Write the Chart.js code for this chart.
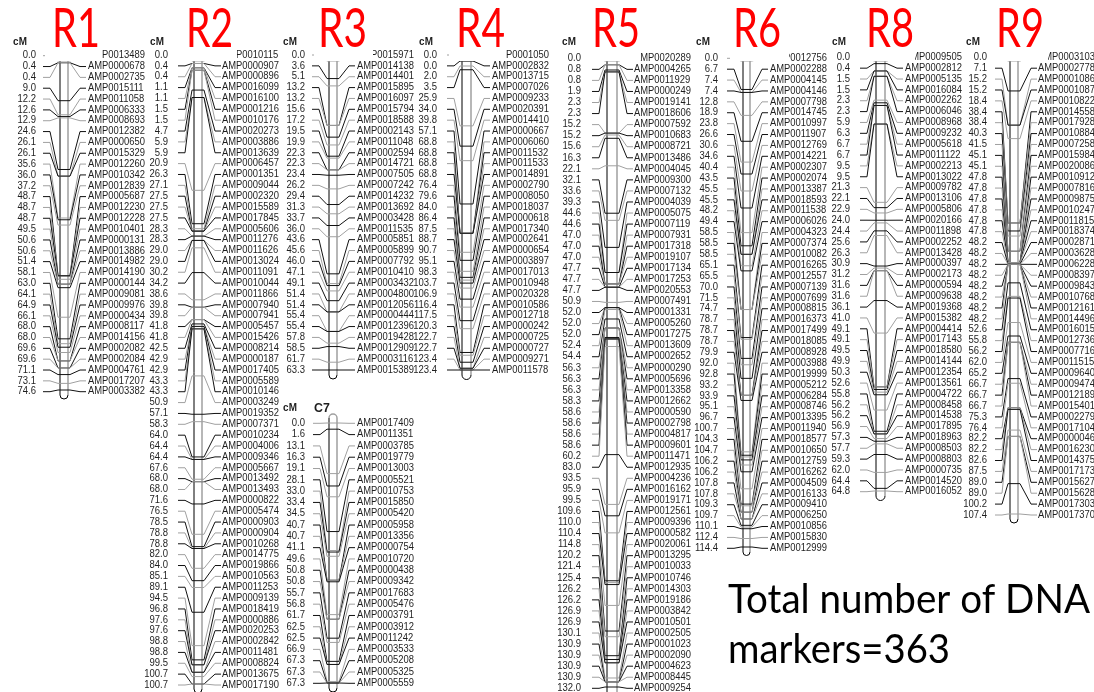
<!DOCTYPE html>
<html>
<head>
<meta charset="utf-8">
<script src="https://cdn.jsdelivr.net/npm/chart.js@4.4.1/dist/chart.umd.min.js"></script>
<style>
  html, body { margin: 0; padding: 0; background: #fff; }
  #wrap { position: relative; width: 1094px; height: 692px; }
</style>
</head>
<body>
<div id="wrap"><canvas id="map"></canvas></div>
<script>
// Linkage groups: marker names and map positions (cM), top to bottom
const r1Markers = ['AMP0013489','AMP0000678','AMP0002735','AMP0015111','AMP0011058','AMP0006333','AMP0008693','AMP0012382','AMP0000650','AMP0015329','AMP0012260','AMP0010342','AMP0012839','AMP0005687','AMP0012230','AMP0012228','AMP0010401','AMP0000131','AMP0013886','AMP0014982','AMP0014190','AMP0000144','AMP0009081','AMP0009976','AMP0000434','AMP0008117','AMP0014156','AMP0002082','AMP0002084','AMP0004761','AMP0017207','AMP0003382'];
const r1Cm = [0.0,0.4,0.4,9.0,12.2,12.6,12.9,24.6,26.1,26.1,35.6,36.0,37.2,48.7,48.7,48.7,49.5,50.6,50.6,51.4,58.1,63.0,64.1,64.9,66.1,68.0,68.0,69.6,69.6,71.1,73.1,74.6];

const r2Markers = ['AMP0010115','AMP0000907','AMP0000896','AMP0016099','AMP0016100','AMP0001216','AMP0010176','AMP0020273','AMP0003886','AMP0013639','AMP0006457','AMP0001351','AMP0009044','AMP0002320','AMP0015589','AMP0017845','AMP0005606','AMP0011276','AMP0011626','AMP0013024','AMP0011091','AMP0010044','AMP0011866','AMP0007940','AMP0007941','AMP0005457','AMP0015426','AMP0008214','AMP0000187','AMP0017405','AMP0005589','AMP0010146','AMP0003249','AMP0019352','AMP0007371','AMP0010234','AMP0004006','AMP0009346','AMP0005667','AMP0013492','AMP0013493','AMP0000822','AMP0005474','AMP0000903','AMP0000904','AMP0010268','AMP0014775','AMP0019866','AMP0010563','AMP0011253','AMP0009139','AMP0018419','AMP0000886','AMP0020253','AMP0002842','AMP0011481','AMP0008824','AMP0013675','AMP0017190'];
const r2Cm = [0.0,0.4,0.4,1.1,1.1,1.5,1.5,4.7,5.9,5.9,20.9,26.3,27.1,27.5,27.5,27.5,28.3,28.3,29.0,29.0,30.2,34.2,38.6,39.8,39.8,41.8,41.8,42.5,42.9,42.9,43.3,43.3,50.9,57.1,58.3,64.0,64.4,64.4,67.6,68.0,68.0,71.6,76.5,78.5,78.8,78.8,82.0,84.0,85.1,89.1,94.5,96.8,97.6,97.6,98.8,98.8,99.5,100.7,100.7];

const r3Markers = ['AMP0015971','AMP0014138','AMP0014401','AMP0015895','AMP0016097','AMP0015794','AMP0018588','AMP0002143','AMP0011048','AMP0002594','AMP0014721','AMP0007505','AMP0007242','AMP0014232','AMP0013692','AMP0003428','AMP0011535','AMP0005851','AMP0005899','AMP0007792','AMP0010410','AMP0003432','AMP0004800','AMP0012056','AMP0000444','AMP0012396','AMP0019428','AMP0012909','AMP0003116','AMP0015389'];
const r3Cm = [0.0,3.6,5.1,13.2,13.2,15.6,17.2,19.5,19.9,22.3,22.3,23.4,26.2,29.4,31.3,33.7,36.0,43.6,45.6,46.0,47.1,49.1,51.4,51.4,55.4,55.4,57.8,58.5,61.7,63.3];

const r4Markers = ['AMP0001050','AMP0002832','AMP0013715','AMP0007026','AMP0009233','AMP0020391','AMP0014410','AMP0000667','AMP0006060','AMP0011532','AMP0011533','AMP0014891','AMP0002790','AMP0008050','AMP0018037','AMP0000618','AMP0017340','AMP0002641','AMP0000654','AMP0003897','AMP0017013','AMP0010948','AMP0020328','AMP0010586','AMP0012718','AMP0000242','AMP0000725','AMP0000727','AMP0009271','AMP0011578'];
const r4Cm = [0.0,0.0,2.0,3.5,25.9,34.0,39.8,57.1,68.8,68.8,68.8,68.8,76.4,79.6,84.0,86.4,87.5,88.7,90.7,95.1,98.3,103.7,106.9,116.4,117.5,120.3,122.7,122.7,123.4,123.4];

const c7Markers = ['AMP0017409','AMP0011351','AMP0003785','AMP0019779','AMP0013003','AMP0005521','AMP0010753','AMP0015850','AMP0005420','AMP0005958','AMP0013356','AMP0000754','AMP0010720','AMP0000438','AMP0009342','AMP0017683','AMP0005476','AMP0003791','AMP0003912','AMP0011242','AMP0003533','AMP0005208','AMP0005325','AMP0005559'];
const c7Cm = [0.0,1.6,13.1,16.3,19.1,28.1,33.0,33.4,34.5,40.7,40.7,41.1,49.6,50.8,50.8,55.7,56.8,61.7,62.5,62.5,66.9,67.3,67.3,67.3];

const r5Markers = ['AMP0020289','AMP0004265','AMP0011929','AMP0000249','AMP0019141','AMP0018606','AMP0007592','AMP0010683','AMP0008721','AMP0013486','AMP0004045','AMP0009300','AMP0007132','AMP0004039','AMP0005075','AMP0007119','AMP0007931','AMP0017318','AMP0019107','AMP0017134','AMP0017253','AMP0020553','AMP0007491','AMP0001331','AMP0005260','AMP0017275','AMP0013609','AMP0002652','AMP0000290','AMP0005696','AMP0013358','AMP0012662','AMP0000590','AMP0002798','AMP0004817','AMP0009601','AMP0011471','AMP0012935','AMP0004236','AMP0016162','AMP0019171','AMP0012561','AMP0009396','AMP0000582','AMP0020061','AMP0013295','AMP0010033','AMP0010746','AMP0014303','AMP0019186','AMP0003842','AMP0010501','AMP0002505','AMP0001023','AMP0002090','AMP0004623','AMP0008445','AMP0009254'];
const r5Cm = [0.0,0.8,0.8,1.9,2.3,2.3,15.2,15.2,15.6,16.3,22.1,32.1,33.6,39.3,44.6,44.6,47.0,47.0,47.0,47.7,47.7,47.7,50.9,52.0,52.0,52.0,52.4,54.4,56.3,56.3,56.3,58.3,58.6,58.6,58.6,58.6,60.2,83.0,93.5,95.9,99.5,109.6,110.0,110.4,114.8,120.2,121.4,125.4,126.2,126.2,126.9,126.9,130.1,130.9,130.9,130.9,130.9,132.0];

const r6Markers = ['AMP0012756','AMP0002288','AMP0004145','AMP0004146','AMP0007798','AMP0014745','AMP0010997','AMP0011907','AMP0012769','AMP0014221','AMP0002307','AMP0002074','AMP0013387','AMP0018593','AMP0011538','AMP0006026','AMP0004323','AMP0007374','AMP0010082','AMP0016265','AMP0012557','AMP0007139','AMP0007699','AMP0008815','AMP0016373','AMP0017499','AMP0018085','AMP0008928','AMP0003988','AMP0019999','AMP0005212','AMP0006284','AMP0008746','AMP0013395','AMP0011940','AMP0018577','AMP0010650','AMP0012759','AMP0016262','AMP0004509','AMP0016133','AMP0009410','AMP0006250','AMP0010856','AMP0015830','AMP0012999'];
const r6Cm = [0.0,6.7,7.4,7.4,12.8,18.9,23.8,26.6,30.6,34.6,40.4,43.5,45.5,45.5,48.2,49.4,58.5,58.5,58.5,65.1,65.5,70.0,71.5,74.7,78.7,78.7,78.7,79.9,92.0,92.8,93.2,93.9,95.1,96.7,100.7,104.3,104.7,106.2,106.2,107.8,107.8,109.3,109.7,110.1,112.4,114.4];

const r8Markers = ['AMP0009505','AMP0002812','AMP0005135','AMP0016084','AMP0002262','AMP0006046','AMP0008968','AMP0009232','AMP0005618','AMP0011122','AMP0002213','AMP0013022','AMP0009782','AMP0013106','AMP0005806','AMP0020166','AMP0011898','AMP0002252','AMP0013428','AMP0000397','AMP0002173','AMP0000594','AMP0009638','AMP0019368','AMP0015382','AMP0004414','AMP0017143','AMP0018580','AMP0014144','AMP0012354','AMP0013561','AMP0004722','AMP0008458','AMP0014538','AMP0017895','AMP0018963','AMP0008503','AMP0008803','AMP0000735','AMP0014520','AMP0016052'];
const r8Cm = [0.0,0.4,1.5,1.5,2.3,2.3,5.9,6.3,6.7,6.7,9.5,9.5,21.3,22.1,22.9,24.0,24.4,25.6,26.3,30.9,31.2,31.6,31.6,36.1,41.0,49.1,49.1,49.5,49.9,50.3,52.6,55.8,56.2,56.2,56.9,57.3,57.7,59.3,62.0,64.4,64.8];

const r9Markers = ['AMP0003103','AMP0002778','AMP0001086','AMP0001087','AMP0010822','AMP0014558','AMP0017928','AMP0010884','AMP0007258','AMP0015984','AMP0020086','AMP0010912','AMP0007816','AMP0009875','AMP0010247','AMP0011815','AMP0018374','AMP0002871','AMP0003628','AMP0006228','AMP0008397','AMP0009843','AMP0010768','AMP0012161','AMP0014496','AMP0016015','AMP0012736','AMP0007716','AMP0011515','AMP0009640','AMP0009474','AMP0012189','AMP0015401','AMP0002279','AMP0017104','AMP0000046','AMP0016230','AMP0014375','AMP0017173','AMP0015627','AMP0015628','AMP0017303','AMP0017370'];
const r9Cm = [0.0,7.1,15.2,15.2,18.4,38.4,38.4,40.3,41.5,45.1,45.1,47.8,47.8,47.8,47.8,47.8,47.8,48.2,48.2,48.2,48.2,48.2,48.2,48.2,48.2,52.6,55.8,56.2,62.0,65.2,66.7,66.7,66.7,75.3,76.4,82.2,82.2,82.6,87.5,89.0,89.0,100.2,107.4];

const totalMarkers = 363;

// drawing layout for each group (canvas pixels)
const groups = [
  { id: 'R1', markers: r1Markers, cm: r1Cm, valueX: 36,  connL: 43,  wallL: 60,  wallR: 68,  connR: 86,  nameX: 88,  rowTop: 55.7, rowBottom: 391.7, chromTop: 61,  chromBottom: 390, headX: 20,  headY: 42 },
  { id: 'R2', markers: r2Markers, cm: r2Cm, valueX: 168, connL: 178, wallL: 194, wallR: 202, connR: 221, nameX: 222, rowTop: 55,   rowBottom: 685,   chromTop: 61,  chromBottom: 684, headX: 157, headY: 42 },
  { id: 'R3', markers: r3Markers, cm: r3Cm, valueX: 305, connL: 312, wallL: 329, wallR: 337, connR: 355, nameX: 357, rowTop: 55,   rowBottom: 370,   chromTop: 61,  chromBottom: 370, headX: 290, headY: 42 },
  { id: 'R4', markers: r4Markers, cm: r4Cm, valueX: 437, connL: 447, wallL: 462, wallR: 471, connR: 490, nameX: 492, rowTop: 55,   rowBottom: 370,   chromTop: 61,  chromBottom: 370, headX: 426, headY: 42 },
  { id: 'C7', markers: c7Markers, cm: c7Cm, valueX: 305, connL: 313, wallL: 329, wallR: 337, connR: 355, nameX: 357, rowTop: 423.3, rowBottom: 683.3, chromTop: 423, chromBottom: 683, headX: 290, headY: 408 },
  { id: 'R5', markers: r5Markers, cm: r5Cm, valueX: 581, connL: 592, wallL: 607, wallR: 617, connR: 633, nameX: 634, rowTop: 58.3, rowBottom: 688.3, chromTop: 61,  chromBottom: 687, headX: 569, headY: 42 },
  { id: 'R6', markers: r6Markers, cm: r6Cm, valueX: 718, connL: 727, wallL: 743, wallR: 750, connR: 768, nameX: 770, rowTop: 58.3, rowBottom: 548.3, chromTop: 61,  chromBottom: 547, headX: 703, headY: 42 },
  { id: 'R8', markers: r8Markers, cm: r8Cm, valueX: 850, connL: 860, wallL: 876, wallR: 885, connR: 903, nameX: 905, rowTop: 57.3, rowBottom: 491.7, chromTop: 61,  chromBottom: 491, headX: 839, headY: 42 },
  { id: 'R9', markers: r9Markers, cm: r9Cm, valueX: 987, connL: 995, wallL: 1010, wallR: 1018, connR: 1037, nameX: 1038, rowTop: 57.3, rowBottom: 515, chromTop: 61, chromBottom: 514, headX: 973, headY: 42 }
];

// red group titles sit on white boxes that hide the top of each map
const titles = [
  { text: 'R1', x: 52,  w: 48, box: [45, 102] },
  { text: 'R2', x: 186, w: 47, box: [170, 237] },
  { text: 'R3', x: 318, w: 49, box: [314, 373] },
  { text: 'R4', x: 456, w: 49, box: [449, 506] },
  { text: 'R5', x: 592, w: 48, box: [585, 640] },
  { text: 'R6', x: 733, w: 48, box: [730, 789] },
  { text: 'R8', x: 866, w: 48, box: [855, 915] },
  { text: 'R9', x: 996, w: 48, box: [990, 1048] }
];

const W = 1094, H = 692;
const INK = '#1e1e1e';
const GREY = '#a0a0a0';
const lineColor = i => (i % 2 ? '#111' : GREY);

// one hidden linear axis per group for cM and one for label rows
const scales = { x: { type: 'linear', min: 0, max: W, display: false, bounds: 'data' } };
groups.forEach(g => {
  const maxCm = Math.max(...g.cm);
  const span = maxCm * H / (g.chromBottom - g.chromTop);
  const min = -g.chromTop * span / H;
  scales['cm' + g.id] = { type: 'linear', reverse: true, display: false, bounds: 'data', min: min, max: min + span };
  const n = g.markers.length - 1;
  const rspan = n * H / (g.rowBottom - g.rowTop);
  const rmin = -g.rowTop * rspan / H;
  scales['row' + g.id] = { type: 'linear', reverse: true, display: false, bounds: 'data', min: rmin, max: rmin + rspan };
});

// marker ticks across each chromosome
const datasets = groups.map(g => ({
  type: 'scatter',
  label: g.id,
  xAxisID: 'x',
  yAxisID: 'cm' + g.id,
  data: g.cm.map(v => ({ x: (g.wallL + g.wallR) / 2, y: v })),
  pointStyle: 'line',
  pointRadius: (g.wallR - g.wallL) / 2,
  pointBorderWidth: 1,
  pointBorderColor: ctx => lineColor(ctx.dataIndex),
  showLine: false,
  clip: false
}));

function squeezeText(ctx, text, x, y, align, sx) {
  ctx.save();
  ctx.translate(x, y);
  ctx.scale(sx, 1);
  ctx.textAlign = align;
  ctx.fillText(text, 0, 0);
  ctx.restore();
}

function fitText(ctx, text, x, baseline, width, font, color) {
  ctx.save();
  ctx.font = font;
  const w = ctx.measureText(text).width;
  ctx.translate(x, baseline);
  ctx.scale(width / w, 1);
  ctx.fillStyle = color;
  ctx.textAlign = 'left';
  ctx.textBaseline = 'alphabetic';
  ctx.fillText(text, 0, 0);
  ctx.restore();
}

const linkageMap = {
  id: 'linkageMap',
  beforeDatasetsDraw(chart) {
    const ctx = chart.ctx;
    const xs = chart.scales.x;
    ctx.save();
    groups.forEach(g => {
      const cy = chart.scales['cm' + g.id];
      const ry = chart.scales['row' + g.id];
      const xl = xs.getPixelForValue(g.wallL), xr = xs.getPixelForValue(g.wallR);
      const top = cy.getPixelForValue(0), bot = cy.getPixelForValue(Math.max(...g.cm));
      const r = (xr - xl) / 2, mid = (xl + xr) / 2;
      // chromosome outline with rounded ends
      ctx.lineWidth = 1;
      ctx.strokeStyle = '#000';
      ctx.beginPath();
      ctx.moveTo(xl, top - 5);
      ctx.lineTo(xl, bot + 5);
      ctx.arc(mid, bot + 5, r, Math.PI, 0, true);
      ctx.stroke();
      ctx.strokeStyle = GREY;
      ctx.lineWidth = 1.5;
      ctx.beginPath();
      ctx.moveTo(xr, bot + 5);
      ctx.lineTo(xr, top - 5);
      ctx.arc(mid, top - 5, r, 0, Math.PI, true);
      ctx.stroke();
      // connectors from label rows to marker positions
      ctx.lineWidth = 1;
      const a = xs.getPixelForValue(g.connL), b = xs.getPixelForValue(g.connR);
      g.cm.forEach((v, i) => {
        const yr = ry.getPixelForValue(i);
        const yt = cy.getPixelForValue(v);
        ctx.strokeStyle = lineColor(i);
        ctx.beginPath();
        ctx.moveTo(a, yr);
        ctx.lineTo(a + 7, yr);
        ctx.lineTo(xl - 2, yt);
        ctx.lineTo(xl, yt);
        ctx.moveTo(xr, yt);
        ctx.lineTo(xr + 2, yt);
        ctx.lineTo(b - 6, yr);
        ctx.lineTo(b, yr);
        ctx.stroke();
      });
    });
    ctx.restore();
  },
  afterDatasetsDraw(chart) {
    const ctx = chart.ctx;
    const xs = chart.scales.x;
    ctx.save();
    ctx.fillStyle = INK;
    ctx.textBaseline = 'middle';
    groups.forEach(g => {
      const ry = chart.scales['row' + g.id];
      ctx.font = '10px "Liberation Sans", Arial, sans-serif';
      g.markers.forEach((name, i) => {
        const y = ry.getPixelForValue(i);
        squeezeText(ctx, g.cm[i].toFixed(1), xs.getPixelForValue(g.valueX), y, 'right', 0.95);
        squeezeText(ctx, name, xs.getPixelForValue(g.nameX), y, 'left', 0.94);
      });
      ctx.font = 'bold 11px "Liberation Sans", Arial, sans-serif';
      squeezeText(ctx, 'cM', g.headX, g.headY, 'center', 0.9);
    });
    ctx.font = 'bold 13px "Liberation Sans", Arial, sans-serif';
    squeezeText(ctx, 'C7', 322, 408, 'center', 0.95);
    ctx.restore();
  },
  afterDraw(chart) {
    const ctx = chart.ctx;
    ctx.save();
    titles.forEach(t => {
      ctx.fillStyle = '#fff';
      ctx.fillRect(t.box[0], 0, t.box[1] - t.box[0], 61);
      fitText(ctx, t.text, t.x, 47, t.w, '54px Lato, "Liberation Sans", sans-serif', '#ff0000');
    });
    fitText(ctx, 'Total number of DNA', 728, 613, 362, '40px Lato, "Liberation Sans", sans-serif', '#000');
    fitText(ctx, 'markers=' + totalMarkers, 728, 663, 222, '40px Lato, "Liberation Sans", sans-serif', '#000');
    ctx.restore();
  }
};

new Chart(document.getElementById('map'), {
  type: 'scatter',
  data: { datasets: datasets },
  options: {
    responsive: true,
    maintainAspectRatio: false,
    animation: false,
    events: [],
    layout: { padding: 0, autoPadding: false },
    scales: scales,
    plugins: { legend: { display: false }, tooltip: { enabled: false } }
  },
  plugins: [linkageMap]
});
</script>
</body>
</html>
